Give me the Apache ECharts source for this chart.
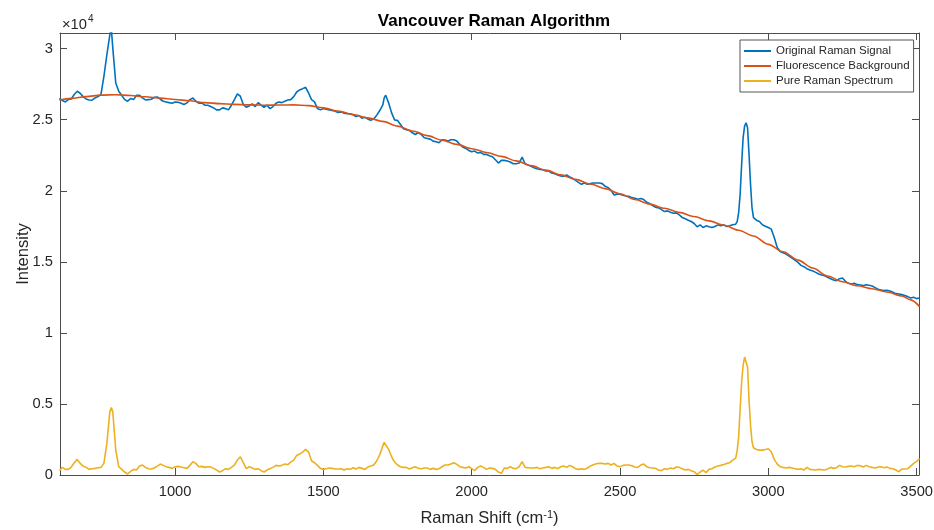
<!DOCTYPE html>
<html>
<head>
<meta charset="utf-8">
<script src="https://cdn.jsdelivr.net/npm/echarts@6/dist/echarts.min.js"></script>
<style>
  html, body { margin: 0; padding: 0; background: #fff; }
  #chart { width: 934px; height: 530px; }
</style>
</head>
<body>
<div id="chart"></div>
<script>
// Raman shift (cm^-1) vs. intensity, [shift, intensity] pairs
const originalSignal = [
  [610,26490],[620,26345],[630,26250],[640,26415],[650,26460],[660,26770],[670,27000],[680,26860],[690,26625],[700,26460],
  [710,26390],[720,26370],[730,26530],[740,26625],[750,26770],[760,28050],[770,29570],[780,30975],[785,31400],[790,30040],
  [800,27580],[810,27000],[820,26720],[830,26415],[840,26300],[850,26485],[860,26415],[870,26720],[880,26720],[890,26530],
  [900,26390],[910,26415],[920,26440],[930,26580],[940,26600],[950,26440],[960,26300],[970,26250],[980,26200],[990,26160],
  [1000,26250],[1010,26230],[1020,26160],[1030,26065],[1040,26180],[1050,26415],[1060,26530],[1070,26300],[1080,26160],[1090,26180],
  [1100,26020],[1110,26020],[1120,25925],[1130,25830],[1140,25690],[1150,25690],[1160,25830],[1170,25780],[1180,25690],[1190,26020],
  [1200,26415],[1210,26810],[1220,26650],[1230,26065],[1240,25875],[1250,25970],[1260,26110],[1270,25925],[1280,26200],[1290,26020],
  [1300,25875],[1310,26020],[1320,25780],[1330,25925],[1340,26160],[1350,26250],[1360,26200],[1370,26300],[1380,26390],[1390,26415],
  [1400,26625],[1410,26950],[1420,27095],[1430,27185],[1440,27280],[1450,26880],[1460,26415],[1470,26250],[1480,25780],[1490,25690],
  [1500,25780],[1510,25735],[1520,25690],[1530,25645],[1540,25600],[1550,25500],[1560,25550],[1570,25455],[1580,25430],[1590,25410],
  [1600,25340],[1610,25223],[1620,25293],[1630,25106],[1640,25176],[1650,25036],[1660,24966],[1670,25059],[1680,25317],[1690,25644],
  [1700,26018],[1705,26532],[1710,26719],[1720,26181],[1730,25480],[1740,24989],[1750,24942],[1760,24662],[1770,24358],[1780,24288],
  [1790,24241],[1800,24077],[1810,23960],[1820,24101],[1830,23960],[1840,23727],[1850,23680],[1860,23634],[1870,23494],[1880,23446],
  [1890,23376],[1900,23587],[1910,23563],[1920,23494],[1930,23587],[1940,23587],[1950,23494],[1960,23259],[1970,23072],[1980,22979],
  [1990,22838],[2000,22745],[2010,22791],[2020,22651],[2030,22698],[2040,22558],[2050,22558],[2060,22464],[2070,22394],[2080,22184],
  [2090,21950],[2100,22137],[2110,22137],[2120,22090],[2130,22020],[2140,21903],[2150,21903],[2160,21950],[2170,22371],[2180,21903],
  [2190,21810],[2200,21716],[2210,21622],[2220,21552],[2230,21506],[2240,21482],[2250,21389],[2260,21389],[2270,21249],[2280,21202],
  [2290,21108],[2300,21038],[2310,21015],[2320,21108],[2330,20968],[2340,20874],[2350,20734],[2360,20594],[2370,20453],[2380,20547],
  [2390,20453],[2400,20500],[2410,20547],[2420,20547],[2430,20547],[2440,20500],[2450,20313],[2460,20220],[2470,20033],[2480,19705],
  [2490,19752],[2500,19752],[2510,19682],[2520,19635],[2530,19612],[2540,19518],[2550,19472],[2560,19402],[2570,19449],[2580,19378],
  [2590,19191],[2600,19098],[2610,18958],[2620,18841],[2630,18794],[2640,18677],[2650,18537],[2660,18584],[2670,18490],[2680,18420],
  [2690,18443],[2700,18303],[2710,18116],[2720,18023],[2730,17929],[2740,17835],[2750,17695],[2760,17461],[2770,17602],[2780,17414],
  [2790,17531],[2800,17461],[2810,17414],[2820,17485],[2830,17602],[2840,17531],[2850,17602],[2860,17485],[2870,17531],[2880,17602],
  [2890,17648],[2895,17835],[2900,18467],[2905,19753],[2910,21857],[2915,23727],[2920,24546],[2925,24779],[2930,24429],[2935,22558],
  [2940,20454],[2945,18818],[2950,18116],[2960,17929],[2970,17835],[2980,17602],[2990,17508],[3000,17414],[3010,17297],[3020,16713],
  [3030,16012],[3040,15731],[3050,15638],[3060,15544],[3070,15404],[3080,15263],[3090,15123],[3100,14960],[3110,14749],[3120,14656],
  [3130,14515],[3140,14422],[3150,14352],[3160,14258],[3170,14141],[3180,14071],[3190,14024],[3200,13907],[3210,13814],[3220,13720],
  [3230,13674],[3240,13814],[3250,13861],[3260,13627],[3270,13487],[3280,13440],[3290,13487],[3300,13393],[3310,13370],[3320,13323],
  [3330,13393],[3340,13346],[3350,13300],[3360,13183],[3370,13066],[3380,13019],[3390,12972],[3400,12995],[3410,12949],[3420,12855],
  [3430,12762],[3440,12739],[3450,12692],[3460,12622],[3470,12551],[3480,12458],[3490,12505],[3500,12411],[3510,12458]
];

const fluorescenceBackground = [
  [610,26380],[650,26500],[700,26620],[750,26730],[800,26760],[850,26700],[900,26610],[950,26520],[1000,26420],[1050,26330],
  [1100,26200],[1150,26130],[1200,26080],[1250,26040],[1300,26020],[1350,26030],[1400,26040],[1450,25990],[1500,25830],[1550,25600],
  [1600,25370],[1650,25130],[1700,24880],[1750,24550],[1800,24200],[1850,23880],[1900,23560],[1950,23260],[2000,22960],[2050,22690],
  [2100,22420],[2150,22100],[2200,21770],[2250,21450],[2300,21120],[2350,20800],[2400,20480],[2450,20150],[2500,19790],[2550,19380],
  [2600,19060],[2650,18770],[2700,18480],[2750,18190],[2800,17880],[2850,17570],[2900,17220],[2950,16820],[3000,16230],[3050,15710],
  [3100,15120],[3150,14560],[3200,14000],[3250,13600],[3300,13320],[3350,13110],[3400,12880],[3450,12600],[3480,12320],[3510,11850]
];

const pureRamanSpectrum = [
  [610,302],[620,536],[630,396],[640,396],[650,560],[660,865],[670,1097],[680,817],[690,630],[700,536],
  [710,396],[720,443],[730,466],[740,513],[750,536],[760,817],[770,2220],[780,4441],[785,4745],[790,4441],
  [800,1752],[810,583],[820,396],[830,209],[840,69],[850,256],[860,396],[870,349],[880,630],[890,700],
  [900,536],[910,443],[920,419],[930,490],[940,630],[950,770],[960,677],[970,583],[980,536],[990,466],
  [1000,583],[1010,607],[1020,560],[1030,513],[1040,466],[1050,677],[1060,934],[1070,817],[1080,583],[1090,607],
  [1100,536],[1110,583],[1120,560],[1130,466],[1140,349],[1150,209],[1160,303],[1170,443],[1180,396],[1190,536],
  [1200,700],[1210,1051],[1220,1284],[1230,864],[1240,443],[1250,583],[1260,490],[1270,396],[1280,443],[1290,303],
  [1300,209],[1310,349],[1320,443],[1330,536],[1340,677],[1350,630],[1360,677],[1370,770],[1380,724],[1390,911],
  [1400,1051],[1410,1379],[1420,1472],[1430,1612],[1440,1799],[1450,1612],[1460,1004],[1470,864],[1480,677],[1490,466],
  [1500,396],[1510,443],[1520,490],[1530,466],[1540,419],[1550,419],[1560,443],[1570,349],[1580,443],[1590,396],
  [1600,513],[1610,419],[1620,536],[1630,466],[1640,396],[1650,560],[1660,630],[1670,700],[1680,1004],[1690,1425],
  [1700,2032],[1705,2300],[1710,2430],[1720,1799],[1730,1284],[1740,911],[1750,700],[1760,583],[1770,536],[1780,536],
  [1790,419],[1800,513],[1810,583],[1820,466],[1830,443],[1840,490],[1850,490],[1860,396],[1870,466],[1880,396],
  [1890,443],[1900,583],[1910,700],[1920,700],[1930,770],[1940,864],[1950,747],[1960,583],[1970,536],[1980,490],
  [1990,583],[2000,443],[2010,303],[2020,536],[2030,630],[2040,536],[2050,396],[2060,490],[2070,466],[2080,396],
  [2090,209],[2100,116],[2110,490],[2120,466],[2130,583],[2140,466],[2150,443],[2160,583],[2170,934],[2180,536],
  [2190,513],[2200,490],[2210,490],[2220,536],[2230,443],[2240,490],[2250,536],[2260,583],[2270,466],[2280,536],
  [2290,443],[2300,583],[2310,630],[2320,536],[2330,677],[2340,583],[2350,443],[2360,396],[2370,443],[2380,396],
  [2390,490],[2400,630],[2410,724],[2420,794],[2430,817],[2440,817],[2450,770],[2460,817],[2470,700],[2480,817],
  [2490,630],[2500,583],[2510,677],[2520,700],[2530,700],[2540,653],[2550,560],[2560,536],[2570,700],[2580,770],
  [2590,583],[2600,513],[2610,490],[2620,466],[2630,349],[2640,303],[2650,443],[2660,396],[2670,490],[2680,443],
  [2690,560],[2700,536],[2710,443],[2720,349],[2730,396],[2740,303],[2750,233],[2760,30],[2770,209],[2780,349],
  [2790,162],[2800,396],[2810,443],[2820,560],[2830,630],[2840,677],[2850,747],[2860,817],[2870,864],[2880,1051],
  [2890,1191],[2895,1700],[2900,2687],[2905,4675],[2910,6545],[2915,7714],[2920,8300],[2925,8440],[2930,7597],[2935,5259],
  [2940,3506],[2945,2338],[2950,1916],[2960,1799],[2970,1752],[2980,1752],[2990,1799],[3000,1847],[3010,1635],[3020,1097],
  [3030,770],[3040,583],[3050,536],[3060,490],[3070,536],[3080,490],[3090,443],[3100,396],[3110,443],[3120,349],
  [3130,536],[3140,396],[3150,373],[3160,349],[3170,396],[3180,373],[3190,349],[3200,419],[3210,536],[3220,466],
  [3230,513],[3240,677],[3250,583],[3260,560],[3270,607],[3280,630],[3290,583],[3300,677],[3310,653],[3320,560],
  [3330,677],[3340,583],[3350,536],[3360,490],[3370,560],[3380,583],[3390,513],[3400,560],[3410,466],[3420,443],
  [3430,349],[3440,233],[3450,420],[3460,419],[3470,443],[3480,630],[3490,817],[3500,958],[3510,1145]
];

const seriesNames = ['Original Raman Signal', 'Fluorescence Background', 'Pure Raman Spectrum'];
const seriesColors = ['#0072BD', '#D95319', '#EDB120'];
const xTickValues = [1000, 1500, 2000, 2500, 3000, 3500];
const yTickValues = [0, 5000, 10000, 15000, 20000, 25000, 30000];

const FONT = '"Liberation Sans", Arial, Helvetica, sans-serif';
const TEXT = '#262626';
const AXIS = '#4d4d4d';
const TICK_FONT = 14.7;
const NAME_FONT = 16.5;
const X_MIN = 612, X_MAX = 3508, Y_MIN = 0, Y_MAX = 31100;

const chart = echarts.init(document.getElementById('chart'), null, { renderer: 'canvas' });

function boxAxis(extra) {
  return Object.assign({
    type: 'value',
    axisLine: { show: true, onZero: false, lineStyle: { color: AXIS, width: 1 } },
    axisTick: { show: true, inside: true, length: 7, lineStyle: { color: AXIS, width: 1 } },
    splitLine: { show: false }
  }, extra);
}

const option = {
  animation: false,
  backgroundColor: '#ffffff',
  title: {
    text: 'Vancouver Raman Algorithm',
    left: 489, top: 8, textAlign: 'center',
    textStyle: { fontFamily: FONT, fontSize: 17, fontWeight: 'bold', color: '#000' }
  },
  legend: {
    data: seriesNames,
    orient: 'vertical',
    left: 740, top: 40,
    padding: [4, 4, 4, 4],
    itemGap: 1,
    itemWidth: 27, itemHeight: 2,
    icon: 'rect',
    borderColor: '#555', borderWidth: 1,
    backgroundColor: '#fff',
    textStyle: { fontFamily: FONT, fontSize: 11.5, color: TEXT, lineHeight: 14 }
  },
  grid: { left: 60, top: 33, width: 859, height: 442, outerBoundsMode: 'none' },
  xAxis: [
    boxAxis({
      position: 'bottom', min: X_MIN, max: X_MAX,
      axisTick: { show: true, inside: true, length: 7, customValues: xTickValues, lineStyle: { color: AXIS, width: 1 } },
      axisLabel: { customValues: xTickValues, margin: 9, color: TEXT, fontSize: TICK_FONT, fontFamily: FONT,
        formatter: v => String(v) },
      name: '{a|Raman Shift (cm}{s|-1}{a|)}',
      nameLocation: 'middle', nameGap: 34, nameMoveOverlap: false,
      nameTextStyle: {
        color: TEXT, fontFamily: FONT, fontSize: NAME_FONT,
        rich: {
          a: { color: TEXT, fontFamily: FONT, fontSize: NAME_FONT, lineHeight: 19 },
          s: { color: TEXT, fontFamily: FONT, fontSize: 11, verticalAlign: 'top', lineHeight: 19 }
        }
      }
    }),
    boxAxis({
      position: 'top', min: X_MIN, max: X_MAX,
      axisTick: { show: true, inside: true, length: 7, customValues: xTickValues, lineStyle: { color: AXIS, width: 1 } },
      axisLabel: { show: false }
    })
  ],
  yAxis: [
    boxAxis({
      position: 'left', min: Y_MIN, max: Y_MAX,
      axisTick: { show: true, inside: true, length: 7, customValues: yTickValues, lineStyle: { color: AXIS, width: 1 } },
      axisLabel: {
        customValues: yTickValues, margin: 7, color: TEXT, fontSize: TICK_FONT, fontFamily: FONT,
        formatter: v => String(v / 10000)
      },
      name: 'Intensity', nameLocation: 'middle', nameGap: 28, nameMoveOverlap: false,
      nameTextStyle: { color: TEXT, fontFamily: FONT, fontSize: NAME_FONT }
    }),
    boxAxis({
      position: 'right', min: Y_MIN, max: Y_MAX,
      axisTick: { show: true, inside: true, length: 7, customValues: yTickValues, lineStyle: { color: AXIS, width: 1 } },
      axisLabel: { show: false }
    })
  ],
  graphic: [
    { type: 'text', left: 62, top: 17, style: { text: '\u00d710', fontFamily: FONT, fontSize: TICK_FONT, fill: TEXT } },
    { type: 'text', left: 88, top: 14, style: { text: '4', fontFamily: FONT, fontSize: 10, fill: TEXT } }
  ],
  series: [
    {
      name: seriesNames[0], type: 'line', data: originalSignal,
      xAxisIndex: 0, yAxisIndex: 0, showSymbol: false, clip: true,
      lineStyle: { color: seriesColors[0], width: 1.6 }, itemStyle: { color: seriesColors[0] }
    },
    {
      name: seriesNames[1], type: 'line', data: fluorescenceBackground,
      xAxisIndex: 0, yAxisIndex: 0, showSymbol: false, clip: true,
      smooth: 0.3, smoothMonotone: 'x',
      lineStyle: { color: seriesColors[1], width: 1.6 }, itemStyle: { color: seriesColors[1] }
    },
    {
      name: seriesNames[2], type: 'line', data: pureRamanSpectrum,
      xAxisIndex: 0, yAxisIndex: 0, showSymbol: false, clip: true,
      lineStyle: { color: seriesColors[2], width: 1.6 }, itemStyle: { color: seriesColors[2] }
    }
  ]
};

chart.setOption(option);
</script>
</body>
</html>
